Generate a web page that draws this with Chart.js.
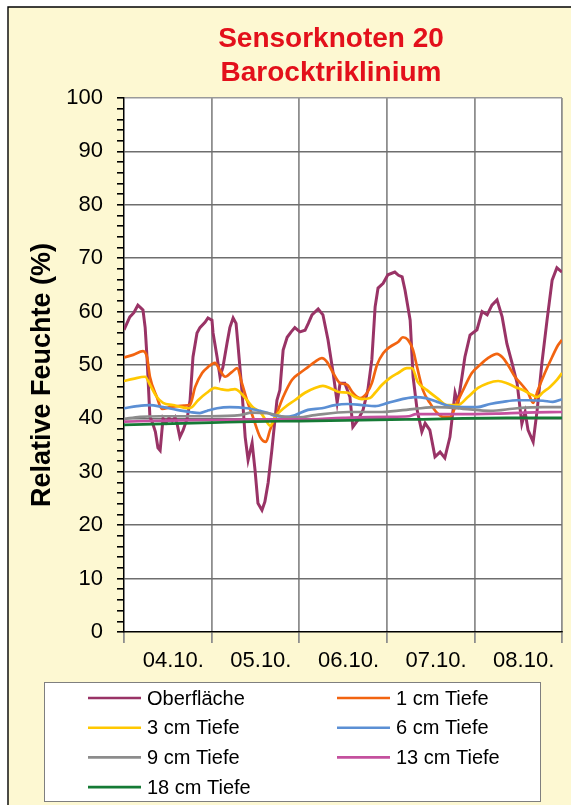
<!DOCTYPE html>
<html>
<head>
<meta charset="utf-8">
<title>Sensorknoten 20 - Barocktriklinium</title>
<script src="https://cdn.jsdelivr.net/npm/chart.js@4.4.0/dist/chart.umd.min.js"></script>
<style>
    html, body { margin: 0; padding: 0; background: #fff; }
    #chartBox { width: 571px; height: 805px; }
</style>
</head>
<body>
<div id="chartBox"><canvas id="feuchteChart" width="571" height="805"></canvas></div>
<script>
// Zeitachse in Stunden ab 04.10. 00:00, Werte relative Feuchte (%)
const dayLabels = ['04.10.', '05.10.', '06.10.', '07.10.', '08.10.'];
const seriesNames = ['Oberfläche', '1 cm Tiefe', '3 cm Tiefe', '6 cm Tiefe', '9 cm Tiefe', '13 cm Tiefe', '18 cm Tiefe'];

const surfaceHours = [0, 0.8, 1.6, 2.7, 3.8, 4.6, 5.2, 5.8, 6.3, 7.1, 7.9, 8.6, 9.3, 9.9, 10.3, 10.7, 11.5, 12.3, 13.2, 14.0,
    14.6, 15.3, 16.2, 17.3, 18.1, 18.9, 20.0, 20.8, 22.2, 23.0, 24.1, 24.4, 25.5, 26.3, 27.1, 28.2, 29.0, 29.9, 30.7, 31.2,
    32.3, 33.2, 34.0, 35.1, 35.9, 36.7, 37.8, 38.6, 39.5, 40.5, 41.9, 42.7, 43.6, 44.7, 45.8, 46.8, 48.2, 49.6, 50.5, 51.5,
    53.2, 54.5, 55.9, 57.3, 58.4, 59.2, 60.5, 61.9, 62.7, 64.1, 65.5, 66.8, 67.9, 68.8, 69.6, 71.0, 72.3, 74.2, 75.2, 76.2,
    77.0, 78.4, 79.2, 80.3, 81.6, 82.5, 83.8, 85.2, 86.6, 87.9, 89.3, 90.7, 91.5, 92.6, 93.4, 94.8, 96.7, 98.1, 99.5, 100.8,
    102.2, 103.6, 104.9, 106.3, 107.7, 109.0, 109.9, 110.7, 112.1, 113.2, 114.5, 115.9, 117.3, 118.6, 120];
const surfaceRH = [56.6, 57.8, 59.0, 59.8, 61.2, 60.7, 60.3, 57.0, 51.5, 40.3, 39.0, 37.5, 34.5, 34.0, 37.0, 40.0, 39.2, 40.1, 39.5, 40.2,
    38.8, 36.5, 37.8, 40.0, 43.4, 51.5, 56.0, 57.0, 58.0, 58.8, 58.4, 56.0, 51.5, 47.8, 49.6, 54.0, 57.0, 58.8, 57.8, 54.0,
    45.3, 36.5, 32.2, 35.4, 30.3, 24.1, 22.8, 24.4, 28.0, 34.0, 43.4, 45.3, 52.8, 55.2, 56.2, 57.0, 56.2, 56.5, 57.8, 59.4,
    60.5, 59.4, 54.7, 48.5, 43.0, 46.6, 46.6, 44.0, 38.4, 39.7, 41.6, 45.3, 51.0, 60.9, 64.4, 65.3, 66.9, 67.4, 66.8, 66.5,
    64.0, 58.4, 47.8, 41.6, 37.5, 39.1, 37.8, 32.8, 33.7, 32.6, 36.5, 44.8, 42.9, 47.8, 51.5, 55.6, 56.6, 60.0, 59.4, 61.2,
    62.2, 59.0, 54.0, 50.4, 46.6, 39.0, 41.2, 37.8, 35.6, 41.6, 50.4, 58.4, 65.9, 68.2, 67.4];

const depth1Hours = [0, 2.5, 5.2, 6.3, 7.1, 9.0, 10.4, 13.2, 16.4, 18.1, 19.5, 21.4, 23.0, 24.9, 26.3, 27.7, 29.6, 31.0, 32.3, 33.7,
    35.3, 37.3, 38.9, 40.0, 41.9, 43.6, 46.0, 48.2, 50.4, 52.3, 54.2, 55.6, 57.3, 59.2, 61.1, 62.7, 64.7, 66.6, 67.9, 69.3,
    71.0, 72.9, 75.1, 76.4, 77.8, 79.2, 80.3, 81.9, 83.8, 85.8, 87.4, 89.3, 91.2, 92.9, 95.3, 97.5, 99.7, 102.2, 103.6, 105.2,
    107.1, 109.0, 110.7, 112.1, 113.4, 115.3, 117.3, 118.9, 120];
const depth1RH = [51.4, 51.9, 52.6, 51.5, 47.8, 44.0, 41.8, 42.2, 42.4, 42.6, 45.9, 48.5, 49.6, 50.4, 49.0, 47.8, 48.7, 49.4, 46.6, 43.4,
    40.3, 36.5, 35.6, 37.8, 41.0, 44.0, 47.2, 48.5, 49.6, 50.6, 51.3, 50.6, 48.5, 46.6, 46.3, 44.8, 43.8, 44.8, 46.6, 50.0,
    52.2, 53.4, 54.3, 55.2, 54.7, 52.8, 49.6, 45.3, 42.9, 41.0, 40.3, 40.3, 42.9, 45.3, 48.5, 50.0, 51.3, 52.1, 51.5, 50.0,
    47.8, 46.3, 44.8, 42.9, 45.3, 48.5, 51.5, 53.7, 54.7];

const depth3Hours = [0, 2.5, 5.8, 7.1, 9.0, 10.7, 13.4, 15.9, 17.5, 18.6, 20.3, 22.7, 24.9, 26.3, 28.2, 30.4, 31.8, 33.7, 35.3, 37.3,
    39.2, 40.0, 41.4, 44.1, 46.8, 49.6, 52.3, 54.5, 57.0, 59.2, 61.4, 63.3, 65.2, 67.4, 68.8, 70.7, 72.9, 75.1, 77.5, 78.9,
    80.5, 83.0, 85.8, 88.5, 91.5, 94.2, 97.0, 99.7, 102.5, 104.9, 107.1, 109.3, 111.8, 113.2, 114.8, 116.7, 118.6, 120];
const depth3RH = [47.0, 47.4, 47.8, 46.3, 44.0, 42.9, 42.5, 42.1, 41.9, 42.1, 43.4, 44.8, 45.7, 45.5, 45.3, 45.5, 44.9, 43.4, 42.1, 41.2,
    39.3, 38.6, 40.3, 42.1, 43.4, 44.8, 45.7, 46.1, 45.5, 44.9, 44.8, 44.0, 43.6, 43.8, 44.8, 46.3, 47.6, 48.5, 49.4, 49.4,
    46.8, 45.3, 43.8, 42.5, 42.5, 44.0, 45.7, 46.6, 47.0, 46.6, 45.9, 45.3, 44.4, 44.0, 44.9, 45.9, 47.2, 48.5];

const depth6Hours = [0, 3.6, 7.1, 10.7, 14.5, 18.1, 20.8, 22.7, 25.5, 29.0, 33.7, 37.3, 39.5, 40.8, 44.1, 46.8, 50.4, 54.2, 57.8,
    61.4, 65.2, 68.8, 72.3, 76.2, 79.7, 82.7, 85.8, 89.3, 92.9, 96.7, 100.3, 103.8, 107.7, 111.2, 114.8, 117.5, 120];
const depth6RH = [41.9, 42.3, 42.5, 42.1, 41.6, 41.2, 41.0, 41.4, 41.9, 42.1, 41.9, 41.4, 41.0, 40.6, 40.3, 40.6, 41.6, 41.9, 42.5,
    42.7, 42.5, 42.3, 42.9, 43.6, 44.0, 43.8, 43.1, 42.3, 42.1, 42.1, 42.7, 43.1, 43.4, 43.4, 43.3, 43.1, 43.6];

const depth9Hours = [0, 4.4, 9.9, 17.3, 23.6, 31.8, 35.0, 39.2, 44.1, 48.0, 52.3, 61.4, 70.7, 79.7, 85.8, 92.9, 100.3, 107.7, 114.8, 120];
const depth9RH = [39.9, 40.3, 40.4, 40.4, 40.4, 40.6, 41.1, 41.0, 40.3, 40.2, 40.6, 41.2, 41.2, 41.8, 42.1, 41.8, 41.4, 41.9, 42.1, 42.1];

const depth13Hours = [0, 12, 24, 36, 48, 60, 72, 78, 80, 90, 102, 110, 120];
const depth13RH = [39.4, 39.6, 39.7, 39.8, 39.8, 40.1, 40.3, 40.4, 40.8, 40.8, 40.9, 41.1, 41.2];

const depth18Hours = [0, 24, 35, 48, 78, 105, 120];
const depth18RH = [38.8, 39.2, 39.4, 39.5, 39.8, 40.1, 40.1];

const seriesHours = [surfaceHours, depth1Hours, depth3Hours, depth6Hours, depth9Hours, depth13Hours, depth18Hours];
const seriesRH = [surfaceRH, depth1RH, depth3RH, depth6RH, depth9RH, depth13RH, depth18RH];
const seriesColors = ['#993366', '#F26410', '#FFC800', '#5B8FD4', '#8C8C8C', '#C4509E', '#157A35'];

const FONT = '"Liberation Sans", Arial, sans-serif';
const CLEAR = 'rgba(0,0,0,0)';

// Stundenwerte -> {x, y}
function toPoints(hours, values) {
    return hours.map((h, i) => ({ x: h, y: values[i] }));
}

// Tick-Positionen: Tagesgrenzen fuer Gitter, Tagesmitte (leicht versetzt) fuer Beschriftung
const labelOffset = 13.5;
const xTickHours = [];
for (let d = 0; d <= dayLabels.length; d++) {
    xTickHours.push(d * 24);
    if (d < dayLabels.length) xTickHours.push(d * 24 + labelOffset);
}

const datasets = seriesNames.map((name, i) => ({
    label: name,
    data: toPoints(seriesHours[i], seriesRH[i]),
    borderColor: seriesColors[i],
    backgroundColor: seriesColors[i],
    borderWidth: i === 0 ? 3 : 2.7,
    pointRadius: 0,
    tension: i === 0 ? 0 : 0.35,
    cubicInterpolationMode: i === 0 ? 'default' : 'monotone',
    order: seriesNames.length - i
}));

// Rahmen, Titel, Achsentitel und Legende
const framePlugin = {
    id: 'frame',
    beforeDraw(chart) {
        const c = chart.ctx;
        const area = chart.chartArea;
        c.save();
        c.fillStyle = '#fff';
        c.fillRect(0, 0, chart.width, chart.height);
        c.fillStyle = '#FDF8D2';
        c.fillRect(8, 7, chart.width, chart.height);
        c.strokeStyle = '#000';
        c.lineWidth = 1.4;
        c.beginPath();
        c.moveTo(8, chart.height);
        c.lineTo(8, 7);
        c.lineTo(chart.width, 7);
        c.stroke();
        c.fillStyle = '#fff';
        c.fillRect(area.left, area.top, area.right - area.left, area.bottom - area.top);
        c.restore();
    },
    afterDraw(chart) {
        const c = chart.ctx;
        c.save();
        // Titel
        c.fillStyle = '#E3101B';
        c.font = 'bold 28px ' + FONT;
        c.textAlign = 'center';
        c.textBaseline = 'alphabetic';
        c.fillText('Sensorknoten 20', 331, 47);
        c.fillText('Barocktriklinium', 331, 81);

        // y-Achsentitel
        c.fillStyle = '#000';
        c.font = 'bold 27px ' + FONT;
        c.translate(43, 375);
        c.rotate(-Math.PI / 2);
        c.textBaseline = 'middle';
        c.fillText('Relative Feuchte (%)', 0, 0);
        c.setTransform(1, 0, 0, 1, 0, 0);

        // Legende
        c.fillStyle = '#fff';
        c.fillRect(44, 682, 496, 119);
        c.strokeStyle = '#7f7f7f';
        c.lineWidth = 1;
        c.strokeRect(44.5, 682.5, 496, 119);
        c.font = '20px ' + FONT;
        c.textAlign = 'left';
        c.textBaseline = 'middle';
        chart.data.datasets.forEach((ds, i) => {
            const col = i % 2;
            const row = Math.floor(i / 2);
            const y = 698 + row * 29.7;
            const x0 = col === 0 ? 88 : 337;
            c.strokeStyle = ds.borderColor;
            c.lineWidth = 2.6;
            c.beginPath();
            c.moveTo(x0, y);
            c.lineTo(x0 + 53, y);
            c.stroke();
            c.fillStyle = '#000';
            c.fillText(ds.label, x0 + 59, y + 1);
        });
        c.restore();
    }
};

const ctx = document.getElementById('feuchteChart').getContext('2d');
new Chart(ctx, {
    type: 'line',
    data: { datasets: datasets },
    options: {
        responsive: false,
        animation: false,
        events: [],
        layout: {
            padding: { top: 98, left: 10, right: 9, bottom: 133 }
        },
        plugins: {
            legend: { display: false },
            title: { display: false },
            tooltip: { enabled: false }
        },
        scales: {
            x: {
                type: 'linear',
                min: 0,
                max: 120,
                afterBuildTicks: (scale) => {
                    scale.ticks = xTickHours.map(v => ({ value: v }));
                },
                afterFit: (scale) => { scale.height = 40; },
                grid: {
                    color: (c) => (c.tick && c.tick.value > 0 && c.tick.value % 24 === 0) ? '#8e8e8e' : CLEAR,
                    tickColor: (c) => (c.tick && c.tick.value % 24 === 0) ? '#8e8e8e' : CLEAR,
                    lineWidth: 1.8,
                    tickLength: 11
                },
                border: { color: '#000', width: 1.5 },
                ticks: {
                    autoSkip: false,
                    maxRotation: 0,
                    padding: 5,
                    color: '#000',
                    font: { family: FONT, size: 22 },
                    callback: (value) => {
                        const k = dayLabels.findIndex((_, d) => d * 24 + labelOffset === value);
                        return k >= 0 ? dayLabels[k] : '';
                    }
                }
            },
            y: {
                min: 0,
                max: 100,
                afterFit: (scale) => { scale.width = 114; },
                grid: {
                    color: (c) => {
                        if (!c.tick || c.tick.value % 10 !== 0 || c.tick.value === 0) return CLEAR;
                        return c.tick.value === 100 ? '#9a9a9a' : '#6e6e6e';
                    },
                    tickColor: '#000',
                    lineWidth: 1.6,
                    tickLength: 7
                },
                border: { color: '#000', width: 1.5 },
                ticks: {
                    stepSize: 2,
                    autoSkip: false,
                    padding: 14,
                    color: '#000',
                    font: { family: FONT, size: 22 },
                    callback: (value) => value % 10 === 0 ? value : ''
                }
            }
        }
    },
    plugins: [framePlugin]
});
</script>
</body>
</html>
